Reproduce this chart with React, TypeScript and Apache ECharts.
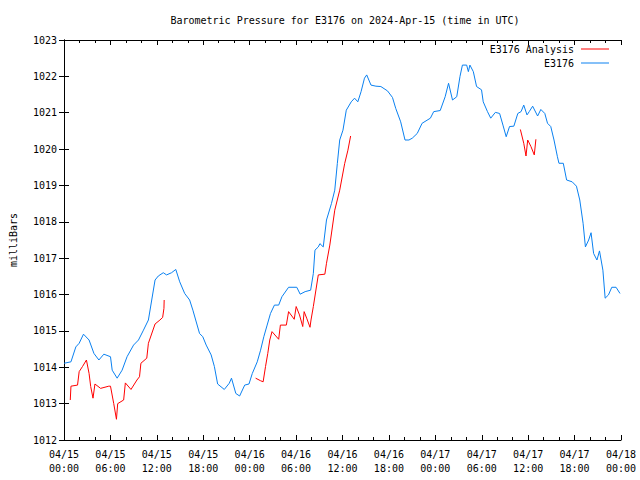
import React, { useEffect, useRef } from "react";
import * as echarts from "echarts";

const titleText = "Barometric Pressure for E3176 on 2024-Apr-15 (time in UTC)";
const yAxisName = "milliBars";
const seriesNames = ["E3176 Analysis", "E3176"];

// hours since 04/15 00:00 UTC
const obsHours = [
  0, 0.9, 1.53, 1.96, 2.52, 3.24, 3.87, 4.51, 5.15, 6.01, 6.23, 6.87, 7.51, 8.15, 8.99, 9.63,
  10.27, 10.91, 11.34, 11.77, 12.19, 12.83, 13.26, 13.9, 14.45, 14.96, 15.6, 16.24, 16.66,
  17.52, 17.94, 18.38, 19.02, 19.44, 19.86, 20.72, 21.36, 21.65, 22.21, 22.7, 23.36, 23.91,
  24.34, 24.98, 25.41, 25.83, 26.26, 26.69, 27.2, 27.75, 28.17, 29.03, 30.09, 30.53, 31.17,
  31.88, 32.23, 32.44, 32.87, 33.08, 33.51, 33.93, 34.57, 35.0, 35.33, 35.64, 36.06, 36.49,
  37.13, 37.56, 37.98, 38.4, 38.84, 39.13, 39.68, 40.32, 40.96, 41.82, 42.46, 42.88, 43.52,
  44.08, 44.59, 45.02, 45.66, 46.29, 47.36, 47.79, 48.63, 49.27, 49.71, 50.22, 50.77, 51.19,
  51.5, 52.05, 52.27, 52.47, 52.91, 53.33, 53.97, 54.19, 54.74, 55.16, 55.76, 56.31, 56.74,
  57.16, 57.59, 58.15, 58.66, 59.08, 59.43, 59.85, 60.14, 60.58, 61.22, 61.64, 62.15, 62.5,
  62.92, 63.34, 63.78, 63.98, 64.54, 64.97, 65.69, 66.24, 66.67, 67.1, 67.4, 67.82, 68.13,
  68.46, 68.89, 69.22, 69.66, 69.95, 70.38, 70.81, 71.36, 71.87,
];
const obsPressure = [
  1014.11, 1014.15, 1014.56, 1014.66, 1014.91, 1014.75, 1014.38, 1014.2, 1014.36, 1014.29,
  1013.92, 1013.7, 1013.92, 1014.29, 1014.61, 1014.75, 1015.02, 1015.3, 1015.85, 1016.4,
  1016.51, 1016.6, 1016.54, 1016.6, 1016.69, 1016.35, 1016.03, 1015.85, 1015.57, 1014.93,
  1014.84, 1014.61, 1014.34, 1014.02, 1013.54, 1013.39, 1013.56, 1013.7, 1013.28, 1013.21,
  1013.51, 1013.54, 1013.83, 1014.15, 1014.47, 1014.84, 1015.16, 1015.48, 1015.71, 1015.71,
  1015.94, 1016.2, 1016.2, 1016.01, 1016.08, 1016.12, 1016.58, 1017.22, 1017.31, 1017.4,
  1017.31, 1018.05, 1018.5, 1018.87, 1019.6, 1020.25, 1020.52, 1021.07, 1021.3, 1021.4,
  1021.3, 1021.58, 1021.95, 1022.04, 1021.76, 1021.73, 1021.72, 1021.6, 1021.42, 1021.12,
  1020.75, 1020.25, 1020.25, 1020.3, 1020.43, 1020.71, 1020.85, 1021.03, 1021.06, 1021.44,
  1021.81, 1021.35, 1021.44, 1022.0, 1022.31, 1022.31, 1022.13, 1022.31, 1022.13, 1021.72,
  1021.63, 1021.3, 1021.03, 1020.85, 1021.01, 1020.98, 1020.66, 1020.34, 1020.62, 1020.63,
  1020.98, 1021.03, 1021.21, 1020.94, 1021.03, 1021.18, 1020.91, 1021.09, 1020.98, 1020.71,
  1020.62, 1020.25, 1019.79, 1019.61, 1019.61, 1019.15, 1019.1, 1018.98, 1018.6, 1017.96,
  1017.31, 1017.5, 1017.7, 1017.13, 1016.95, 1017.2, 1016.67, 1015.9, 1015.99, 1016.2,
  1016.2, 1016.03,
];

// null marks a gap between analysis runs
const anaHours = [
  0.81, 0.9, 1.75, 1.96, 2.39, 2.9, 3.24, 3.45, 3.75, 4.0, 4.73, 5.79, 6.01, 6.43, 6.78, 6.94,
  7.71, 7.93, 8.66, 9.43, 9.76, 9.94, 10.7, 10.91, 11.77, 12.4, 12.75, 12.92, 12.95,
  18.0,
  24.77, 25.41, 25.74, 26.05, 26.34, 26.6, 26.89, 27.75, 27.97, 28.74, 29.03, 29.76, 30.01,
  30.44, 30.86, 31.04, 31.37, 31.8, 31.93, 32.23, 32.87, 33.72, 33.93, 34.36, 35.0, 35.64,
  36.28, 36.7, 37.05,
  48.0,
  58.99, 59.43, 59.72, 59.94, 60.36, 60.79, 61.0,
];
const anaPressure = [
  1013.1, 1013.48, 1013.51, 1013.88, 1014.02, 1014.2, 1013.83, 1013.47, 1013.15, 1013.54,
  1013.42, 1013.48, 1013.48, 1013.0, 1012.57, 1013.0, 1013.1, 1013.57, 1013.39, 1013.65,
  1013.74, 1014.11, 1014.25, 1014.66, 1015.19, 1015.3, 1015.37, 1015.62, 1015.85,
  null,
  1013.7, 1013.63, 1013.6, 1014.02, 1014.38, 1014.75, 1014.98, 1014.77, 1015.16, 1015.16,
  1015.53, 1015.32, 1015.67, 1015.44, 1015.12, 1015.53, 1015.35, 1015.1, 1015.3, 1015.67,
  1016.54, 1016.56, 1016.86, 1017.36, 1018.32, 1018.87, 1019.6, 1019.97, 1020.36,
  null,
  1020.54, 1020.16, 1019.81, 1020.25, 1020.07, 1019.84, 1020.27,
];

const yMin = 1012;
const yMax = 1023;
const xMin = 0;
const xMax = 72;
const xInterval = 6;

const FONT = "DejaVu Sans Mono";
const RED = "#ff0000";
const BLUE = "#0a80f0";

function fmtTime(h: number): string {
  const day = 15 + Math.floor(h / 24);
  const hr = Math.round(h % 24);
  const pad = (n: number) => (n < 10 ? "0" + n : "" + n);
  return "04/" + pad(day) + "\n" + pad(hr) + ":00";
}

export default function App() {
  const ref = useRef<HTMLDivElement>(null);
  useEffect(() => {
    if (!ref.current) return;
    const chart = echarts.init(ref.current, null, { renderer: "svg" });
    const anaData = anaHours.map((h, i) => [h, anaPressure[i] === null ? "-" : anaPressure[i]]);
    const obsData = obsHours.map((h, i) => [h, obsPressure[i]]);
    const axisLine = { show: true, lineStyle: { color: "#000", width: 1 } };
    const textBase = { color: "#000", fontFamily: FONT, fontSize: 10 };
    const legendBase = {
      orient: "vertical",
      right: 31,
      padding: 0,
      align: "right",
      icon: "rect",
      itemWidth: 28,
      itemHeight: 1,
      textStyle: { ...textBase, padding: [0, 2, 0, 0] },
    };
    chart.setOption({
      animation: false,
      backgroundColor: "#fff",
      title: {
        text: titleText,
        left: 340,
        textAlign: "center",
        top: 10,
        textStyle: { ...textBase, fontWeight: "normal" },
      },
      legend: [
        { ...legendBase, data: [seriesNames[0]], top: 44 },
        { ...legendBase, data: [seriesNames[1]], top: 58 },
      ],
      grid: { left: 58, right: 19, top: 40, bottom: 40, containLabel: false },
      xAxis: [
        {
          type: "value",
          min: xMin,
          max: xMax,
          interval: xInterval,
          position: "bottom",
          axisLine,
          axisTick: { show: true, inside: true, length: 5, lineStyle: { color: "#000" } },
          minorTick: { show: true, splitNumber: 3, length: 3, lineStyle: { color: "#000" } },
          splitLine: { show: false },
          axisLabel: {
            ...textBase,
            margin: 7,
            lineHeight: 14,
            formatter: (v: number) => fmtTime(v),
          },
        },
        {
          type: "value",
          min: xMin,
          max: xMax,
          interval: xInterval,
          position: "top",
          axisLine,
          axisTick: { show: true, inside: true, length: 5, lineStyle: { color: "#000" } },
          minorTick: { show: true, splitNumber: 3, length: 3, lineStyle: { color: "#000" } },
          splitLine: { show: false },
          axisLabel: { show: false },
        },
      ],
      yAxis: [
        {
          type: "value",
          min: yMin,
          max: yMax,
          interval: 1,
          position: "left",
          name: yAxisName,
          nameLocation: "middle",
          nameGap: 46,
          nameRotate: 90,
          nameTextStyle: { ...textBase },
          axisLine,
          axisTick: { show: true, inside: true, length: 5, lineStyle: { color: "#000" } },
          splitLine: { show: false },
          axisLabel: { ...textBase, margin: 7, formatter: (v: number) => String(v) },
        },
        {
          type: "value",
          min: yMin,
          max: yMax,
          interval: 1,
          position: "right",
          axisLine,
          axisTick: { show: true, inside: true, length: 5, lineStyle: { color: "#000" } },
          splitLine: { show: false },
          axisLabel: { show: false },
        },
      ],
      series: [
        {
          name: seriesNames[0],
          type: "line",
          data: anaData,
          showSymbol: false,
          connectNulls: false,
          lineStyle: { color: RED, width: 1 },
          itemStyle: { color: RED },
          z: 3,
        },
        {
          name: seriesNames[1],
          type: "line",
          data: obsData,
          showSymbol: false,
          lineStyle: { color: BLUE, width: 1 },
          itemStyle: { color: BLUE },
          z: 2,
        },
      ],
    });
    return () => chart.dispose();
  }, []);
  return (
    <div
      ref={ref}
      style={{ position: "fixed", left: 0, top: 0, width: 640, height: 480, background: "#fff" }}
    />
  );
}
